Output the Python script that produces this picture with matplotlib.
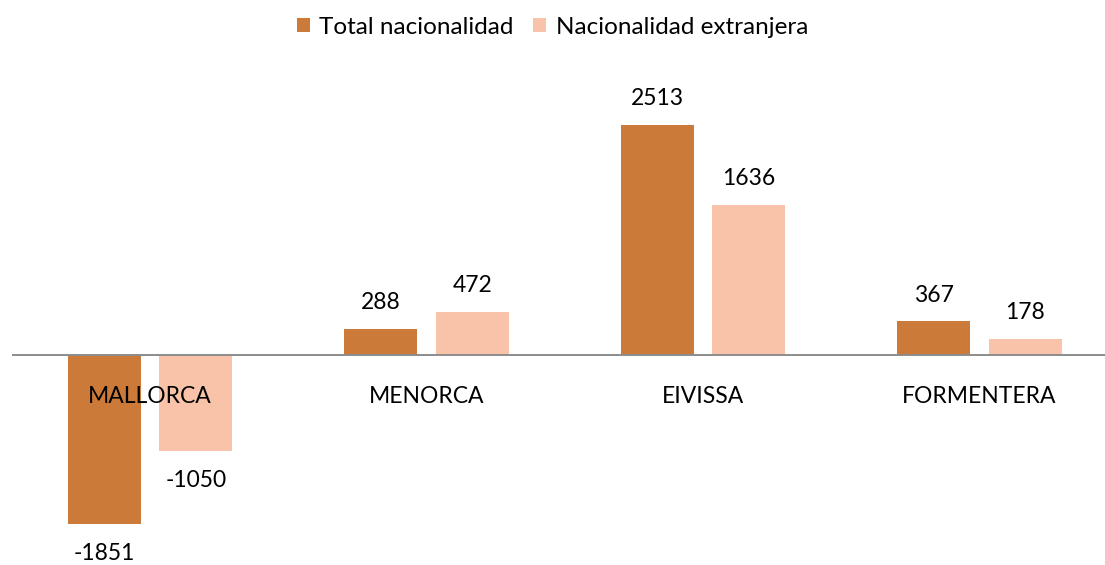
import numpy as np
import matplotlib
matplotlib.use("Agg")
import matplotlib.pyplot as plt

islas = ["MALLORCA", "MENORCA", "EIVISSA", "FORMENTERA"]
total_nac = [-1851, 288, 2513, 367]
extranjera = [-1050, 472, 1636, 178]
series_names = ["Total nacionalidad", "Nacionalidad extranjera"]

c_dark = "#CC7A39"
c_light = "#F8C3A8"
fs = 16.5
fs_leg = 17.5

plt.rcParams["font.family"] = ["Lato", "DejaVu Sans"]

fig = plt.figure(figsize=(11.05, 5.65), dpi=100)
ax = fig.add_axes([12 / 1105, 0, 1093 / 1105, 505 / 565])

x = np.arange(len(islas))
w = 0.264
off = 0.166
b1 = ax.bar(x - off, total_nac, w, color=c_dark, label=series_names[0], zorder=2)
b2 = ax.bar(x + off, extranjera, w, color=c_light, label=series_names[1], zorder=2)

ax.axhline(0, color="#8C8C8C", lw=1.4, zorder=3)
ax.set_xlim(-0.499, 3.454)
ax.set_ylim(-2295, 3224)
ax.axis("off")

for bars in (b1, b2):
    for r in bars:
        v = r.get_height()
        cx = r.get_x() + r.get_width() / 2
        dy = 19 if v >= 0 else -21
        ax.annotate(str(int(v)), xy=(cx, v), xytext=(0, dy), textcoords="offset points",
                    ha="center", va="center", fontsize=fs, color="#000000", zorder=5)

for i, name in enumerate(islas):
    ax.annotate(name, xy=(i, 0), xytext=(0, -30), textcoords="offset points",
                ha="center", va="center", fontsize=fs, color="#000000", zorder=5)

fig.legend(handles=[b1, b2], labels=series_names, loc="center",
           bbox_to_anchor=(0.5, 1 - 27 / 565), ncol=2, frameon=False,
           fontsize=fs_leg, handlelength=0.54, handleheight=0.54,
           handletextpad=0.4, columnspacing=0.8)

fig.savefig("out.png", dpi=100)
